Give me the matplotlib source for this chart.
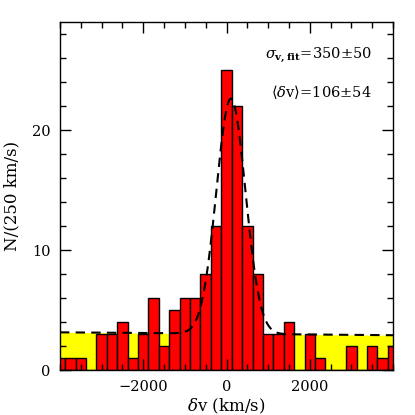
import matplotlib

matplotlib.use("Agg")
import matplotlib.pyplot as plt
import numpy as np
from matplotlib.ticker import MultipleLocator

# histogram of velocity offsets, 250 km/s bins centred on multiples of 250
bin_centers = np.arange(-4000, 4001, 250)
counts = [1, 1, 1, 0, 3, 3, 4, 1, 3, 6, 2, 5, 6, 6, 8, 12, 25, 22, 12, 8,
          3, 3, 4, 0, 3, 1, 0, 0, 2, 0, 2, 1, 2]
BIN_W = 250

# fitted model: gaussian + slowly sloping background
fit_mean, fit_sigma, fit_amp = 106.0, 350.0, 19.6
bg_left, bg_right = 3.14, 2.90

plt.rcParams["font.family"] = ["DejaVu Serif"]
plt.rcParams["mathtext.fontset"] = "dejavuserif"

fig = plt.figure(figsize=(4.15, 4.15), dpi=100)
ax = fig.add_axes([0.1446, 0.1084, 0.8024, 0.8386])

xx = np.linspace(-4000, 4000, 801)
bg = bg_left + (bg_right - bg_left) * (xx + 4000) / 8000
model = bg + fit_amp * np.exp(-0.5 * ((xx - fit_mean) / fit_sigma) ** 2)

ax.fill_between(xx, 0, bg, color="#ffff00", lw=0, zorder=0.5)
ax.bar(bin_centers, counts, width=BIN_W, color="#ff0000", edgecolor="black",
       linewidth=1.0, zorder=1)
ax.plot(xx, model, ls=(0, (4.5, 3)), color="black", lw=1.5, zorder=3)

ax.set_xlim(-4000, 4000)
ax.set_ylim(0, 29)
ax.xaxis.set_major_locator(MultipleLocator(2000))
ax.xaxis.set_minor_locator(MultipleLocator(500))
ax.yaxis.set_major_locator(MultipleLocator(10))
ax.yaxis.set_minor_locator(MultipleLocator(2))
ax.tick_params(which="both", direction="in", top=True, right=True, width=1.0,
               labelsize=10.5, pad=7)
ax.tick_params(which="major", length=8)
ax.tick_params(which="minor", length=4)
ax.set_xticks([-2000, 0, 2000])
ax.set_xticklabels(["\u22122000", "0", "2000"])
for s in ax.spines.values():
    s.set_linewidth(1.0)

ax.set_xlabel(r"$\delta$v (km/s)", fontsize=12, labelpad=2)
ax.set_ylabel("N/(250 km/s)", fontsize=12, labelpad=8)

ax.text(0.937, 0.905, r"$\sigma_{\mathbf{v,fit}}$=350$\pm$50", transform=ax.transAxes,
        ha="right", va="center", fontsize=10.5)
ax.text(0.937, 0.80, r"$\langle\delta$v$\rangle$=106$\pm$54", transform=ax.transAxes,
        ha="right", va="center", fontsize=10.5)

fig.savefig("out.png", dpi=100)
